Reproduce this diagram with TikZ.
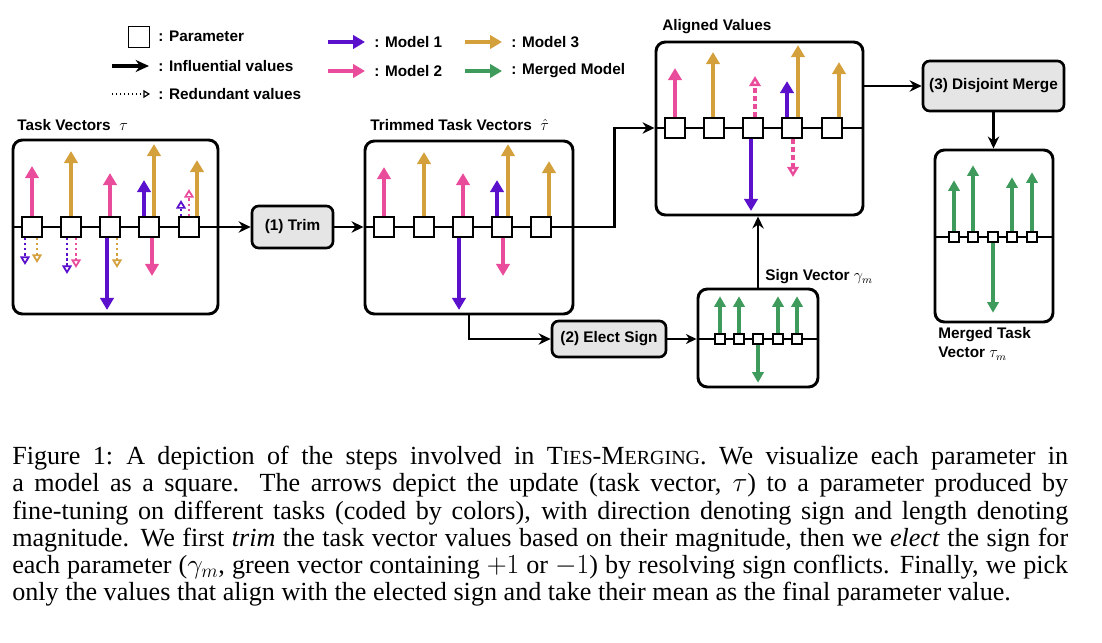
\documentclass[tikz,border=0pt]{standalone}
\usepackage{fontspec}
\setmainfont{Liberation Sans}
\newfontfamily\capfont{Liberation Serif}
\usepackage{xcolor}
\usepackage{tikz}
\usetikzlibrary{arrows.meta,positioning,fit,calc,backgrounds}

\definecolor{mpurple}{HTML}{5B10CC}
\definecolor{mpink}{HTML}{EA4C9C}
\definecolor{mgold}{HTML}{D4A03C}
\definecolor{mgreen}{HTML}{3E9B5C}

% vector arrows on a parameter square: style, square, x offset, length
\newcommand{\vup}[4]{\draw[#1] ($(#2.north)+(#3,0)$) -- ++(0,-#4);}
\newcommand{\vdown}[4]{\draw[#1] ($(#2.south)+(#3,0)$) -- ++(0,#4);}

\begin{document}
\begin{tikzpicture}[x=0.75pt, y=-0.75pt,
  font=\fontsize{11.5}{13.5}\selectfont\bfseries,
  panel/.style   = {draw, line width=2.2pt, rounded corners=7pt, inner sep=0pt},
  stepbox/.style = {draw, line width=2pt, rounded corners=5pt, fill=gray!20,
                    inner sep=0pt},
  param/.style   = {draw, fill=white, line width=1.4pt, minimum size=15pt,
                    inner sep=0pt},
  tinyparam/.style = {param, minimum size=7.5pt, line width=1.1pt},
  axis/.style    = {line width=2.2pt},
  conn/.style    = {-{Stealth[length=9pt,width=8.5pt]}, line width=1.8pt},
  thinconn/.style= {-{Stealth[length=8pt,width=7.5pt]}, line width=1.1pt},
  vec/.style     = {-{Triangle[length=9pt,width=10pt]}, line width=3pt},
  pur/.style     = {vec, mpurple},
  pnk/.style     = {vec, mpink},
  gld/.style     = {vec, mgold},
  grn/.style     = {-{Triangle[length=8pt,width=8.5pt]}, line width=2.7pt, mgreen},
  weak/.style    = {-{Triangle[open,length=6.5pt,width=7.5pt,line width=1.3pt]},
                    line width=1.8pt, dotted},
  wpur/.style    = {weak, mpurple},
  wpnk/.style    = {weak, mpink},
  wgld/.style    = {weak, mgold},
  faded/.style   = {-{Triangle[open,length=7.5pt,width=8.5pt,line width=1.8pt]},
                    line width=3pt, dash pattern=on 3.5pt off 2.5pt, mpink},
  lbl/.style     = {anchor=west, inner sep=0pt}
]
\useasboundingbox (0,0) rectangle (1102,642);

% -- Legend --
\node[param, minimum size=15.75pt] (lpar) at (139,37) {};
\node[lbl] (lp) at (158,36) {: Parameter};
\node[lbl] (li) at (158,66) {: Influential values};
\node[lbl] (lr) at (158,94) {: Redundant values};
\draw[-{Stealth[length=10pt,width=9pt]}, line width=2.6pt]
     ($(li.west)+(-46,0)$) -- ($(li.west)+(-9,0)$);
\draw[-{Triangle[open,length=5pt,width=6pt,line width=0.9pt]}, line width=1pt, dotted]
     ($(lr.west)+(-46,0)$) -- ($(lr.west)+(-8,0)$);

\node[lbl] (lm1) at (374,42) {: Model 1};
\node[lbl] (lm2) at (374,71) {: Model 2};
\node[lbl] (lm3) at (511,42) {: Model 3};
\node[lbl] (lmm) at (511,71) {: Merged Model};
\draw[pur] ($(lm1.west)+(-46,0)$) -- ($(lm1.west)+(-9,0)$);
\draw[pnk] ($(lm2.west)+(-46,0)$) -- ($(lm2.west)+(-9,0)$);
\draw[gld] ($(lm3.west)+(-46,0)$) -- ($(lm3.west)+(-9,0)$);
\draw[vec, mgreen] ($(lmm.west)+(-46,0)$) -- ($(lmm.west)+(-9,0)$);

% -- Panels and titles --
\node[panel, fit={(13,140) (218,314)}]  (tv) {};
\node[panel, fit={(365,141) (573,314)}] (tt) {};
\node[panel, fit={(656,42) (863,215)}]  (av) {};
\node[panel, fit={(698,289) (818,387)}] (sv) {};
\node[panel, fit={(935,150) (1053,322)}] (mv) {};

\node[lbl] (ttv) at (17,125)  {Task Vectors~~$\tau$};
\node[lbl] (ttt) at (370,125) {Trimmed Task Vectors~~$\hat{\tau}$};
\node[lbl] (tav) at (662,27)  {Aligned Values};
\node[lbl] (tsv) at (765,277) {Sign Vector $\gamma_m$};
\node[lbl, anchor=north west, align=left, font=\fontsize{11.5}{14.5}\selectfont\bfseries]
     (tmv) at (938,327) {Merged Task\\Vector $\tau_m$};

% -- Steps --
\node[stepbox, minimum width=60.75pt, minimum height=31.5pt]  (trim)  at (292.5,227) {(1) Trim};
\node[stepbox, minimum width=85.5pt, minimum height=27pt]     (elect) at (609,339)   {(2) Elect Sign};
\node[stepbox, minimum width=105.75pt, minimum height=37.5pt] (merge) at (993.5,86)  {(3) Disjoint Merge};

% -- Parameter squares --
\foreach \i/\x in {1/32,2/71,3/110,4/149,5/189}
  \node[param] (t\i) at (\x,227) {};
\foreach \i/\x in {1/384,2/424,3/463,4/502,5/541}
  \node[param] (r\i) at (\x,227) {};
\foreach \i/\x in {1/675,2/714,3/753,4/792,5/832}
  \node[param] (a\i) at (\x,128) {};
\foreach \i/\x in {1/720,2/739,3/758,4/778,5/797}
  \node[tinyparam] (s\i) at (\x,339) {};
\foreach \i/\x in {1/954,2/973,3/993,4/1012,5/1032}
  \node[tinyparam] (m\i) at (\x,237) {};

% -- Axes and connectors --
\begin{scope}[on background layer]
  \draw[axis] (tv.west |- t1) -- (tv.east |- t1);
  \draw[axis] (tt.west |- r1) -- (tt.east |- r1);
  \draw[axis] (av.west |- a1) -- (av.east |- a1);
  \draw[axis] (sv.west |- s1) -- (sv.east |- s1);
  \draw[axis] (mv.west |- m1) -- (mv.east |- m1);
\end{scope}
\draw[conn] (tv.east |- t1) -- (trim.west);
\draw[conn] (trim.east) -- (tt.west |- r1);
\draw[conn] (tt.east |- r5) -- ++(40,0) |- (av.west |- a1);
\draw[conn] (tt.south) |- (elect.west);
\draw[thinconn] (elect.east) -- (sv.west |- s1);
\draw[conn] (sv.north) -- (sv.north |- av.south);
\draw[conn] (av.east |- merge.west) -- (merge.west);
\draw[conn] (merge.south) -- (merge.south |- mv.north);

% -- Task vectors --
\vup{pnk}{t1}{0}{50}
\vdown{wpur}{t1}{-7}{27}
\vdown{wgld}{t1}{5}{25}
\vup{gld}{t2}{0}{65}
\vdown{wpur}{t2}{-4}{36}
\vdown{wpnk}{t2}{5}{30}
\vup{pnk}{t3}{0}{43}
\vdown{pur}{t3}{-3}{72}
\vdown{wgld}{t3}{7}{30}
\vup{pur}{t4}{-5}{36}
\vup{gld}{t4}{5}{72}
\vdown{pnk}{t4}{3}{38}
\vup{wpur}{t5}{-8}{16}
\vup{wpnk}{t5}{0}{27}
\vup{gld}{t5}{8}{56}

% -- Trimmed --
\vup{pnk}{r1}{0}{49}
\vup{gld}{r2}{0}{64}
\vup{pnk}{r3}{0}{43}
\vdown{pur}{r3}{-4}{72}
\vup{pur}{r4}{-5}{36}
\vup{gld}{r4}{6}{72}
\vdown{pnk}{r4}{1}{38}
\vup{gld}{r5}{8}{55}

% -- Aligned --
\vup{pnk}{a1}{0}{49}
\vup{gld}{a2}{-1}{65}
\vup{faded}{a3}{2}{41}
\vdown{pur}{a3}{-2}{72}
\vup{pur}{a4}{-5}{36}
\vup{gld}{a4}{6}{72}
\vdown{faded}{a4}{1}{38}
\vup{gld}{a5}{7}{55}

% -- Sign and merged --
\foreach \i in {1,2,4,5} {\vup{grn}{s\i}{0}{37}}
\vdown{grn}{s3}{0}{38}
\vup{grn}{m1}{0}{51}
\vup{grn}{m2}{0}{66}
\vdown{grn}{m3}{0}{70}
\vup{grn}{m4}{0}{54}
\vup{grn}{m5}{0}{59}

% -- Caption --
\node[anchor=north west, inner sep=0pt, text width=792pt, align=justify,
      font=\capfont\mdseries\fontsize{19.6}{20.4}\selectfont] (cap) at (12,446)
 {Figure 1:\hspace{0.5em}A depiction of the steps involved in
  T{\fontsize{15}{15}\selectfont IES}-M{\fontsize{15}{15}\selectfont ERGING}.
  We visualize each parameter in\linebreak
  a model as a square. The arrows depict the update (task vector, $\tau$) to a
  parameter produced by\linebreak
  fine-tuning on different tasks (coded by colors), with direction denoting sign
  and length denoting\linebreak
  magnitude. We first \textit{trim} the task vector values based on their
  magnitude, then we \textit{elect} the sign for\linebreak
  each parameter ($\gamma_m$, green vector containing $+1$ or $-1$) by resolving
  sign conflicts. Finally, we pick\linebreak
  only the values that align with the elected sign and take their mean as the
  final parameter value.};

\end{tikzpicture}
\end{document}
